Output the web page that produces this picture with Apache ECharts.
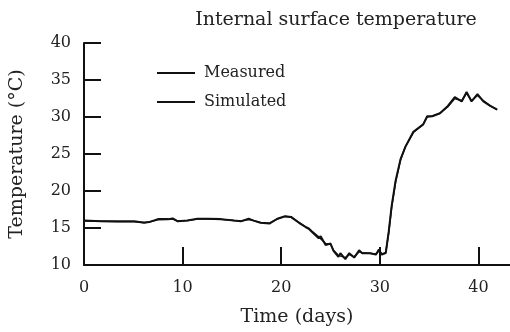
<!DOCTYPE html>
<html>
<head>
<meta charset="utf-8">
<script src="https://cdn.jsdelivr.net/npm/echarts@6/dist/echarts.min.js"></script>
<style>html,body{margin:0;padding:0;background:#fff}#c{width:510px;height:332px}</style>
</head>
<body>
<div id="c"></div>
<script>
const titleText = 'Internal surface temperature';
const xName = 'Time (days)';
const yName = 'Temperature (°C)';
const xTicks = [0, 10, 20, 30, 40];
const yTicks = [10, 15, 20, 25, 30, 35, 40];

const days = [0, 1.7, 3.4, 5.1, 6.1, 6.6, 7.5, 8.5, 9.0, 9.5, 10.5, 11.5, 12.5, 13.9, 15.2, 15.9, 16.7, 17.2, 17.9, 18.8, 19.6, 20.4, 21.0, 21.8, 22.5, 22.8, 23.1, 23.8, 24.0, 24.5, 25.0, 25.3, 25.8, 26.0, 26.5, 26.9, 27.4, 27.9, 28.2, 29.0, 29.6, 29.9, 30.2, 30.6, 30.9, 31.2, 31.6, 32.1, 32.6, 33.4, 34.4, 34.8, 35.3, 36.1, 36.9, 37.6, 38.3, 38.8, 39.3, 39.9, 40.5, 41.2, 41.9];
const measured = [16.0, 15.9, 15.9, 15.9, 15.7, 15.8, 16.2, 16.2, 16.3, 15.9, 16.0, 16.25, 16.25, 16.2, 16.0, 15.9, 16.25, 16.0, 15.7, 15.6, 16.25, 16.6, 16.5, 15.7, 15.1, 14.9, 14.5, 13.6, 13.9, 12.7, 12.9, 11.9, 11.1, 11.6, 10.8, 11.6, 11.0, 12.0, 11.6, 11.6, 11.4, 12.1, 11.4, 11.6, 14.5, 18.0, 21.4, 24.3, 26.0, 28.0, 29.0, 30.1, 30.1, 30.5, 31.5, 32.7, 32.1, 33.4, 32.1, 33.1, 32.1, 31.5, 31.0];
const simulated = [15.95, 15.9, 15.85, 15.85, 15.75, 15.8, 16.1, 16.15, 16.2, 15.95, 16.0, 16.2, 16.2, 16.15, 16.0, 15.95, 16.15, 16.0, 15.75, 15.65, 16.2, 16.55, 16.45, 15.75, 15.15, 14.95, 14.6, 13.8, 13.85, 12.9, 12.8, 12.0, 11.3, 11.5, 11.0, 11.4, 11.1, 11.8, 11.65, 11.6, 11.5, 11.9, 11.5, 11.7, 14.3, 17.8, 21.2, 24.2, 26.0, 27.9, 29.0, 30.0, 30.1, 30.5, 31.4, 32.5, 32.2, 33.2, 32.2, 32.9, 32.2, 31.5, 31.0];

const serif = '"DejaVu Serif", serif';
const chart = echarts.init(document.getElementById('c'), null, {renderer: 'canvas'});
chart.setOption({
  animation: false,
  backgroundColor: '#fff',
  graphic: [{
    type: 'text', x: 336, y: 20,
    style: {text: titleText, align: 'center', verticalAlign: 'middle',
      font: '19px "DejaVu Serif", serif', fill: '#222'}
  }],
  legend: [
    {data: ['Measured'], left: 157, top: 65, padding: 0, icon: 'rect', itemWidth: 38, itemHeight: 2, itemGap: 9,
     textStyle: {fontFamily: serif, fontSize: 16, color: '#222', padding: [0, 0, 0, 4]}},
    {data: ['Simulated'], left: 157, top: 94, padding: 0, icon: 'rect', itemWidth: 38, itemHeight: 2, itemGap: 9,
     textStyle: {fontFamily: serif, fontSize: 16, color: '#222', padding: [0, 0, 0, 4]}}
  ],
  grid: {left: 83, right: 0, top: 43, bottom: 66, containLabel: false},
  xAxis: {
    type: 'value', min: 0, max: 43.2, interval: 10,
    name: xName, nameLocation: 'middle', nameGap: 43,
    nameTextStyle: {fontFamily: serif, fontSize: 19, color: '#222'},
    axisLine: {show: true, onZero: false, lineStyle: {color: '#111', width: 2}},
    axisTick: {show: true, inside: true, length: 18, lineStyle: {color: '#111', width: 2},
      customValues: xTicks},
    axisLabel: {fontFamily: serif, fontSize: 16, color: '#222', margin: 15, customValues: xTicks},
    splitLine: {show: false}
  },
  yAxis: {
    type: 'value', min: 10, max: 40, interval: 5,
    name: yName, nameLocation: 'middle', nameGap: 57, nameRotate: 90,
    nameTextStyle: {fontFamily: serif, fontSize: 19, color: '#222'},
    axisLine: {show: true, onZero: false, lineStyle: {color: '#111', width: 2}},
    axisTick: {show: true, inside: true, length: 17, lineStyle: {color: '#111', width: 2}},
    axisLabel: {fontFamily: serif, fontSize: 16, color: '#222', margin: 13, customValues: yTicks},
    splitLine: {show: false}
  },
  series: [
    {name: 'Measured', type: 'line', showSymbol: false, symbol: 'none',
     data: days.map((d, i) => [d, measured[i]]),
     lineStyle: {color: '#111', width: 2}, itemStyle: {color: '#111'}},
    {name: 'Simulated', type: 'line', showSymbol: false, symbol: 'none',
     data: days.map((d, i) => [d, simulated[i]]),
     lineStyle: {color: '#111', width: 1.5}, itemStyle: {color: '#111'}}
  ]
});
</script>
</body>
</html>
